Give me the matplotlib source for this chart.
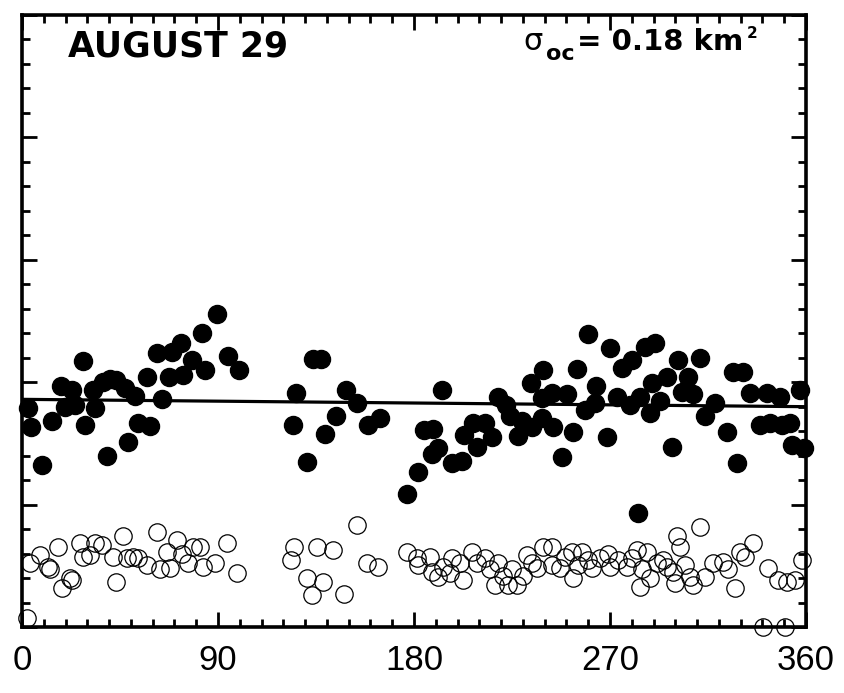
import matplotlib
matplotlib.use("Agg")
import matplotlib.pyplot as plt
from matplotlib.ticker import MultipleLocator

# rotational phase (deg) vs radar cross section (km^2)
filled_x = [2.8, 4.1, 9.2, 13.8, 17.9, 23.0, 19.7, 24.3, 28.0, 28.9, 32.6, 33.5,
            37.2, 40.4, 43.2, 39.0, 47.3, 48.7, 51.9, 53.3, 58.8, 57.4, 62.0, 64.3,
            67.5, 68.9, 73.0, 73.9, 78.1, 82.6, 84.0, 89.5, 94.6, 99.6,
            125.8, 124.4, 130.9, 133.6, 137.3, 139.1, 144.2, 148.8, 153.8, 158.9, 164.4,
            176.8, 181.8, 184.6, 188.7, 191.0, 188.2, 192.8, 197.4, 202.0, 202.9,
            207.1, 208.9, 212.6, 215.8, 218.5, 222.2, 224.1, 227.7, 229.6, 233.7,
            234.2, 238.7, 239.2, 238.7, 243.8, 243.4, 247.9, 250.2, 253.0, 254.8,
            258.5, 259.9, 263.5, 263.1, 268.6, 270.0, 273.2, 275.5, 279.2, 280.1,
            283.7, 286.0, 290.6, 289.3, 288.3, 292.9, 296.1, 298.4, 301.2, 303.0,
            305.8, 308.1, 311.3, 313.6, 318.2, 323.7, 326.4, 331.0, 328.3, 334.3,
            338.8, 342.1, 343.4, 348.0, 348.9, 352.6, 353.5, 357.2, 359.0, 282.8]
filled_y = [0.179, 0.163, 0.132, 0.168, 0.197, 0.194, 0.180, 0.181, 0.217, 0.165, 0.194, 0.179,
            0.200, 0.203, 0.202, 0.140, 0.195, 0.151, 0.189, 0.167, 0.164, 0.204, 0.224, 0.186,
            0.204, 0.225, 0.232, 0.206, 0.218, 0.240, 0.210, 0.256, 0.221, 0.210,
            0.191, 0.165, 0.135, 0.219, 0.219, 0.158, 0.172, 0.194, 0.183, 0.165, 0.171,
            0.109, 0.127, 0.161, 0.162, 0.146, 0.141, 0.194, 0.134, 0.136, 0.157,
            0.167, 0.147, 0.167, 0.155, 0.188, 0.181, 0.172, 0.156, 0.168, 0.199,
            0.163, 0.171, 0.210, 0.187, 0.163, 0.191, 0.139, 0.190, 0.159, 0.211,
            0.177, 0.239, 0.197, 0.183, 0.155, 0.228, 0.188, 0.212, 0.181, 0.218,
            0.188, 0.229, 0.232, 0.199, 0.175, 0.185, 0.204, 0.147, 0.218, 0.192,
            0.204, 0.190, 0.220, 0.172, 0.183, 0.159, 0.208, 0.208, 0.134, 0.191,
            0.165, 0.191, 0.167, 0.188, 0.165, 0.167, 0.149, 0.194, 0.146, 0.093]

open_x = [2.3, 3.7, 8.3, 11.9, 12.9, 16.5, 18.4, 22.0, 23.0, 26.6, 28.0, 31.2, 33.5,
          36.7, 41.8, 43.2, 46.4, 48.2, 51.0, 53.3, 57.4, 62.0, 63.4, 66.6, 68.0,
          71.2, 73.5, 76.2, 78.5, 81.7, 83.1, 88.6, 94.1, 98.7,
          123.5, 124.9, 130.9, 138.2, 133.1, 135.4, 142.8, 153.8, 147.8, 158.4, 163.5,
          176.8, 181.4, 181.8, 187.3, 188.2, 191.0, 193.3, 197.4, 196.5, 202.5,
          201.1, 206.6, 208.9, 212.6, 214.9, 217.2, 218.5, 220.8, 223.1, 225.0,
          227.3, 230.0, 231.9, 234.2, 236.5, 239.2, 243.3, 243.3, 247.0, 249.3,
          252.5, 253.0, 255.3, 257.1, 259.9, 261.7, 265.4, 269.1, 270.0, 273.6,
          277.8, 280.1, 282.4, 283.7, 284.7, 287.0, 288.3, 291.5, 294.3, 296.1,
          298.9, 299.8, 302.1, 300.7, 304.4, 306.7, 308.1, 311.3, 313.6, 317.3,
          321.9, 324.2, 327.4, 329.7, 332.0, 335.6, 342.5, 347.1, 351.2, 354.9,
          358.1, 340.2, 350.3]
open_y = [0.007, 0.052, 0.059, 0.049, 0.047, 0.065, 0.032, 0.040, 0.038, 0.069, 0.057, 0.059, 0.069,
          0.067, 0.057, 0.037, 0.074, 0.056, 0.057, 0.056, 0.051, 0.078, 0.047, 0.061, 0.048,
          0.071, 0.060, 0.052, 0.065, 0.065, 0.049, 0.052, 0.069, 0.044,
          0.055, 0.065, 0.040, 0.037, 0.026, 0.065, 0.063, 0.083, 0.027, 0.052, 0.049,
          0.061, 0.056, 0.051, 0.057, 0.045, 0.041, 0.049, 0.056, 0.044, 0.038,
          0.052, 0.061, 0.052, 0.056, 0.047, 0.034, 0.052, 0.042, 0.034, 0.047,
          0.034, 0.042, 0.059, 0.052, 0.048, 0.065, 0.065, 0.051, 0.048, 0.057,
          0.061, 0.040, 0.051, 0.061, 0.055, 0.048, 0.056, 0.060, 0.049, 0.055,
          0.049, 0.056, 0.063, 0.033, 0.047, 0.061, 0.040, 0.052, 0.055, 0.049,
          0.045, 0.036, 0.065, 0.074, 0.051, 0.041, 0.034, 0.082, 0.041, 0.052,
          0.053, 0.047, 0.032, 0.061, 0.057, 0.069, 0.048, 0.038, 0.037, 0.038,
          0.055, 0.000, 0.000]

# mean OC cross section line
mean_x = [0, 360]
mean_y = [0.186, 0.180]

x_ticks = [0, 90, 180, 270, 360]
title_text = "AUGUST 29"

fig = plt.figure(figsize=(8.45, 6.93), dpi=100)
ax = fig.add_axes([22 / 845, 66 / 693, 784 / 845, 612 / 693])

ax.plot(mean_x, mean_y, color="black", lw=2.3, zorder=2)
ax.plot(filled_x, filled_y, "o", ms=13, mfc="black", mec="black",
        ls="none", clip_on=False, zorder=3)
ax.plot(open_x, open_y, "o", ms=12.5, mfc="none", mec="black", mew=0.9,
        ls="none", clip_on=False, zorder=3)

ax.set_xlim(0, 360)
ax.set_ylim(0, 0.5)
ax.set_xticks(x_ticks)
ax.xaxis.set_minor_locator(MultipleLocator(10))
ax.yaxis.set_major_locator(MultipleLocator(0.1))
ax.yaxis.set_minor_locator(MultipleLocator(0.02))
ax.set_yticklabels([])

ax.tick_params(which="both", direction="in", top=True, right=True, width=2)
ax.tick_params(which="major", length=11)
ax.tick_params(which="minor", length=6)
ax.tick_params(axis="x", labelsize=25, pad=12)
for lab in ax.get_xticklabels():
    lab.set_fontfamily("Liberation Sans")
for sp in ax.spines.values():
    sp.set_linewidth(2.6)

ax.text(0.059, 0.933, title_text, transform=ax.transAxes, ha="left",
        va="baseline", fontsize=25, fontweight="bold", family="DejaVu Sans")

# sigma_OC = 0.18 km^2, pieced together so the subscript stays near full size
ax.text(0.639, 0.943, "σ", transform=ax.transAxes, ha="left",
        va="baseline", fontsize=22, family="DejaVu Sans")
ax.text(0.668, 0.926, "oc", transform=ax.transAxes, ha="left",
        va="baseline", fontsize=16, fontweight="bold", family="DejaVu Sans")
ax.text(0.708, 0.943, "= 0.18 km", transform=ax.transAxes, ha="left",
        va="baseline", fontsize=21, fontweight="bold", family="DejaVu Sans")
ax.text(0.925, 0.963, "2", transform=ax.transAxes, ha="left",
        va="baseline", fontsize=11, fontweight="bold", family="DejaVu Sans")

fig.savefig("out.png", dpi=100)
